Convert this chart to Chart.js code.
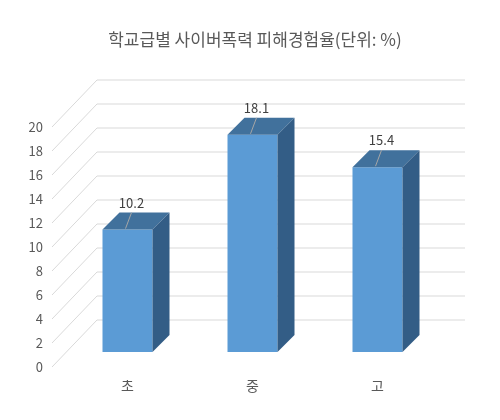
<!DOCTYPE html><html><head><meta charset="utf-8">
<script src="https://cdn.jsdelivr.net/npm/chart.js@4"></script>
<style>body{margin:0;background:#fff}#w{width:500px;height:420px}</style></head><body>
<div id="w"><canvas id="c"></canvas></div>
<script>
const categories=['초','중','고'];
const values=[10.2,18.1,15.4];
const tickValues=[0,2,4,6,8,10,12,14,16,18,20];
const FONT='"Noto Sans CJK KR", sans-serif';
const deco={id:'deco',
beforeDatasetsDraw(ch){const c=ch.ctx,y=ch.scales.y,a=ch.chartArea;c.save();
 c.strokeStyle='#d9d9d9';c.lineWidth=1;c.fillStyle='#595959';c.font='13px '+FONT;c.textAlign='right';c.textBaseline='middle';
 tickValues.forEach(v=>{const p=y.getPixelForValue(v);c.beginPath();c.moveTo(52,p+15);c.lineTo(97,p-32);c.lineTo(465,p-32);c.stroke();c.fillText(v,43,p+15);});
 c.textAlign='center';c.font='14px '+FONT;
 categories.forEach((t,i)=>c.fillText(t,ch.scales.x.getPixelForValue(i),386));
 c.font='17px '+FONT;c.fillText('학교급별 사이버폭력 피해경험율(단위: %)',255,40);c.restore();},
afterDatasetsDraw(ch){const c=ch.ctx;c.save();const d=17;
 ch.getDatasetMeta(0).data.forEach((b,i)=>{const l=b.x-b.width/2,r=b.x+b.width/2,t=b.y,btm=b.base;
  c.fillStyle='#41719c';c.beginPath();c.moveTo(l,t);c.lineTo(l+d,t-d);c.lineTo(r+d,t-d);c.lineTo(r,t);c.closePath();c.fill();
  c.fillStyle='#335d86';c.beginPath();c.moveTo(r,t);c.lineTo(r+d,t-d);c.lineTo(r+d,btm-d);c.lineTo(r,btm);c.closePath();c.fill();
  c.strokeStyle='#a6a6a6';c.beginPath();c.moveTo(b.x-2,t-1);c.lineTo(b.x+4,t-17);c.stroke();
  c.fillStyle='#404040';c.font='13px '+FONT;c.textAlign='center';c.textBaseline='middle';c.fillText(values[i],b.x+4,t-27);});
 c.restore();}};
new Chart(document.getElementById('c'),{type:'bar',
data:{labels:categories,datasets:[{data:values,backgroundColor:'#5b9bd5',barPercentage:0.4,categoryPercentage:1}]},
options:{responsive:true,maintainAspectRatio:false,animation:false,
 layout:{padding:{left:65,right:60,top:112,bottom:68}},
 plugins:{legend:{display:false},tooltip:{enabled:false}},
 scales:{x:{display:false},y:{display:false,min:0,max:20}}},
plugins:[deco]});
</script></body></html>
